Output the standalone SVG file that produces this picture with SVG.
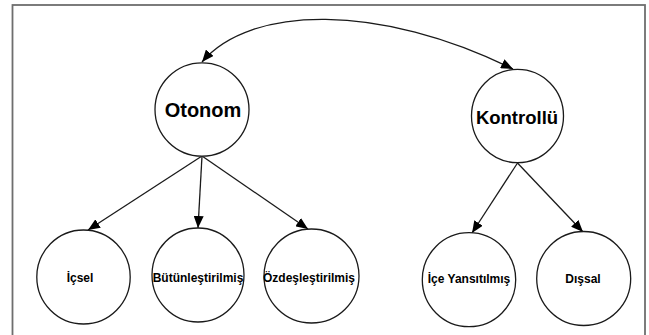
<svg xmlns="http://www.w3.org/2000/svg" width="649" height="335" viewBox="0 0 649 335">
<defs>
<style>
.node{fill:#fff;stroke:#1a1a1a;stroke-width:1.3}
.big{font-family:"Liberation Sans",Arial,sans-serif;font-weight:bold;font-size:20px;fill:#000;text-anchor:middle}
.small{font-family:"Liberation Sans",Arial,sans-serif;font-weight:bold;font-size:12px;fill:#000;text-anchor:middle}
.edge{fill:none;stroke:#1a1a1a;stroke-width:1.3}
</style>
<marker id="ah" markerUnits="userSpaceOnUse" markerWidth="12" markerHeight="10" viewBox="0 0 12 10" refX="12" refY="5" orient="auto-start-reverse">
<path d="M0,0 L12,5 L0,10 z" fill="#000"/>
</marker>
</defs>
<rect width="649" height="335" fill="#fff"/>
<rect x="12.5" y="5" width="632.5" height="340" fill="none" stroke="#6e6e6e" stroke-width="1.8"/>
<g id="connectors">
<path class="edge" d="M202,62 C250,5 380,3 513,69" marker-start="url(#ah)" marker-end="url(#ah)"/>
<line class="edge" x1="202" y1="156" x2="88" y2="230" marker-end="url(#ah)"/>
<line class="edge" x1="202" y1="156" x2="198" y2="228" marker-end="url(#ah)"/>
<line class="edge" x1="202" y1="156" x2="308" y2="229" marker-end="url(#ah)"/>
<line class="edge" x1="517.5" y1="163" x2="472" y2="233" marker-end="url(#ah)"/>
<line class="edge" x1="517.5" y1="163" x2="583" y2="232" marker-end="url(#ah)"/>
</g>
<g id="otonom">
<ellipse class="node" cx="202" cy="109.5" rx="47" ry="46.7"/>
<text class="big" x="203" y="117">Otonom</text>
</g>
<g id="kontrollu">
<ellipse class="node" cx="517.5" cy="116" rx="46" ry="46.7"/>
<text class="big" x="517" y="123.5" style="font-size:18.5px">Kontrollü</text>
</g>
<g id="icsel">
<ellipse class="node" cx="83.5" cy="277" rx="46.7" ry="47"/>
<text class="small" x="80" y="282">İçsel</text>
</g>
<g id="butunlestirilmis">
<ellipse class="node" cx="198" cy="275" rx="46" ry="47"/>
<text class="small" x="198" y="282">Bütünleştirilmiş</text>
</g>
<g id="ozdeslestirilmis">
<ellipse class="node" cx="311.5" cy="276" rx="47.5" ry="47"/>
<text class="small" x="309" y="282">Özdeşleştirilmiş</text>
</g>
<g id="ice-yansitilmis">
<ellipse class="node" cx="469" cy="279.7" rx="46.7" ry="47"/>
<text class="small" x="469" y="283">İçe Yansıtılmış</text>
</g>
<g id="dissal">
<ellipse class="node" cx="583.7" cy="278.5" rx="47" ry="47"/>
<text class="small" x="583" y="283">Dışsal</text>
</g>
</svg>
